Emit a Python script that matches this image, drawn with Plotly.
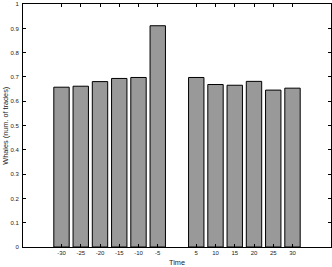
import plotly.graph_objects as go

times = [-30, -25, -20, -15, -10, -5, 5, 10, 15, 20, 25, 30]
whales = [0.658, 0.662, 0.681, 0.694, 0.698, 0.911, 0.698, 0.669, 0.666, 0.682, 0.646, 0.654]
x_ticks = [-30, -25, -20, -15, -10, -5, 5, 10, 15, 20, 25, 30]
x_ticklabels = ["-30", "-25", "-20", "-15", "-10", "-5", "5", "10", "15", "20", "25", "30"]
y_ticks = [0, 0.1, 0.2, 0.3, 0.4, 0.5, 0.6, 0.7, 0.8, 0.9, 1]
y_ticklabels = ["0", "0.1", "0.2", "0.3", "0.4", "0.5", "0.6", "0.7", "0.8", "0.9", "1"]

tick_font = dict(family="Liberation Sans, Arial, sans-serif", size=6, color="#222222")
title_font = dict(family="Liberation Sans, Arial, sans-serif", size=7.3, color="#222222")

fig = go.Figure(go.Bar(
    x=times, y=whales, width=4,
    marker=dict(color="#999999", line=dict(color="#000000", width=1)),
))

fig.update_layout(
    width=332, height=267,
    margin=dict(l=23, r=1, t=4, b=20, autoexpand=False),
    paper_bgcolor="white", plot_bgcolor="white",
    showlegend=False,
    font=tick_font,
    annotations=[
        dict(text="Time", xref="paper", yref="paper", x=0.5, y=-0.064,
             xanchor="center", yanchor="middle", showarrow=False, font=title_font,
             borderpad=0),
        dict(text="Whales (num. of trades)", xref="paper", yref="paper",
             x=-0.058, y=0.5, xanchor="center", yanchor="middle",
             textangle=-90, showarrow=False, font=title_font, borderpad=0),
    ],
)
fig.update_xaxes(
    range=[-40, 40], tickvals=x_ticks, ticktext=x_ticklabels,
    ticks="inside", ticklen=3, tickcolor="#000", tickwidth=1,
    showline=True, linecolor="#000", linewidth=1, mirror="ticks",
    showgrid=False, zeroline=False, tickfont=tick_font, automargin=False,
    ticklabeloverflow="allow",
)
fig.update_yaxes(
    range=[0, 1.0005], tickvals=y_ticks, ticktext=y_ticklabels,
    ticks="inside", ticklen=3, tickcolor="#000", tickwidth=1,
    showline=True, linecolor="#000", linewidth=1, mirror="ticks",
    showgrid=False, zeroline=False, tickfont=tick_font, automargin=False,
    ticklabelstandoff=2, ticklabeloverflow="allow",
)

fig.write_html("out.html", config={"displayModeBar": False},
               post_script="document.body.style.margin='0';")
